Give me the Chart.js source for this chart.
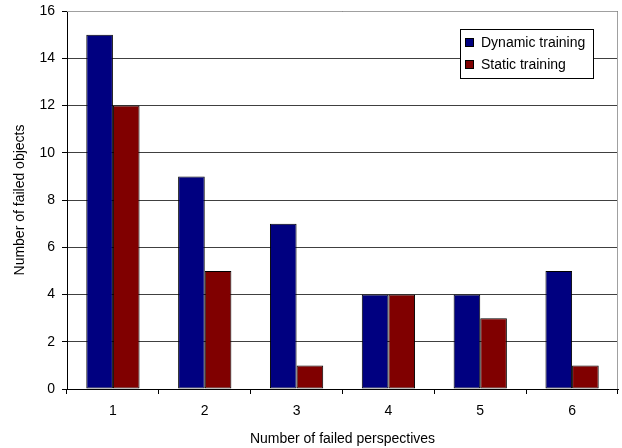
<!DOCTYPE html>
<html lang="en">
<head>
    <meta charset="UTF-8" />
    <title>Failed objects</title>
    <script src="https://cdn.jsdelivr.net/npm/chart.js"></script>
    <style>
        html, body { margin: 0; padding: 0; background: #fff; }
        #wrap { width: 622px; height: 448px; }
    </style>
</head>
<body>
<div id="wrap"><canvas id="failChart" width="622" height="448"></canvas></div>

<script>
    const perspectives = ['1', '2', '3', '4', '5', '6'];
    const dynamicTraining = [15, 9, 7, 4, 4, 5];
    const staticTraining = [12, 5, 1, 4, 3, 1];

    const FONT = '"Liberation Sans", Arial, sans-serif';

    // legend box inside the plot, Excel style
    const boxLegend = {
        id: 'boxLegend',
        afterDraw(chart) {
            const ctx = chart.ctx;
            const x = 460, y = 29, w = 133, h = 49;
            ctx.save();
            ctx.fillStyle = '#fff';
            ctx.fillRect(x, y, w, h);
            ctx.strokeStyle = '#000';
            ctx.lineWidth = 1;
            ctx.strokeRect(x + 0.5, y + 0.5, w, h);
            ctx.font = '14px ' + FONT;
            ctx.textBaseline = 'middle';
            chart.data.datasets.forEach((ds, i) => {
                const cy = y + 13 + i * 22;
                ctx.fillStyle = ds.backgroundColor;
                ctx.fillRect(x + 5, cy - 4, 9, 9);
                ctx.strokeStyle = '#000';
                ctx.strokeRect(x + 5.5, cy - 3.5, 8, 8);
                ctx.fillStyle = '#000';
                ctx.fillText(ds.label, x + 21, cy + 1);
            });
            ctx.restore();
        }
    };

    // grey frame on top and right of plot area
    const frame = {
        id: 'frame',
        beforeDatasetsDraw(chart) {
            const a = chart.chartArea;
            const ctx = chart.ctx;
            ctx.save();
            ctx.strokeStyle = '#a0a0a0';
            ctx.lineWidth = 1;
            ctx.beginPath();
            ctx.moveTo(a.left, a.top + 0.5);
            ctx.lineTo(a.right - 0.5, a.top + 0.5);
            ctx.lineTo(a.right - 0.5, a.bottom);
            ctx.stroke();
            ctx.restore();
        }
    };

    const ctx = document.getElementById('failChart').getContext('2d');
    new Chart(ctx, {
        type: 'bar',
        data: {
            labels: perspectives,
            datasets: [{
                label: 'Dynamic training',
                data: dynamicTraining,
                backgroundColor: '#000080',
                borderColor: '#000',
                borderWidth: 1,
                borderSkipped: false,
                categoryPercentage: 0.58,
                barPercentage: 1.0
            }, {
                label: 'Static training',
                data: staticTraining,
                backgroundColor: '#800000',
                borderColor: '#000',
                borderWidth: 1,
                borderSkipped: false,
                categoryPercentage: 0.58,
                barPercentage: 1.0
            }]
        },
        options: {
            responsive: false,
            animation: false,
            layout: { padding: { top: 11, right: 4, left: 0, bottom: 0 } },
            plugins: {
                legend: { display: false },
                tooltip: { enabled: false }
            },
            scales: {
                x: {
                    afterFit(s) { s.height = 59; s.paddingLeft = 0; s.paddingRight = 0; },
                    grid: {
                        offset: true,
                        drawOnChartArea: false,
                        drawTicks: true,
                        tickLength: 5,
                        tickColor: '#000'
                    },
                    border: { color: '#000' },
                    ticks: {
                        color: '#000',
                        padding: 9,
                        font: { family: FONT, size: 14 }
                    },
                    title: {
                        display: true,
                        text: 'Number of failed perspectives',
                        color: '#000',
                        padding: { top: 4, bottom: 0 },
                        font: { family: FONT, size: 14 }
                    }
                },
                y: {
                    min: 0,
                    max: 16,
                    afterFit(s) { s.width = 67; s.paddingTop = 0; s.paddingBottom = 0; },
                    grid: {
                        color: '#404040',
                        tickLength: 5,
                        tickColor: '#000'
                    },
                    border: { color: '#000' },
                    ticks: {
                        stepSize: 2,
                        color: '#000',
                        padding: 7,
                        font: { family: FONT, size: 14 }
                    },
                    title: {
                        display: true,
                        text: 'Number of failed objects',
                        color: '#000',
                        padding: { top: 12, bottom: 0 },
                        font: { family: FONT, size: 14 }
                    }
                }
            }
        },
        plugins: [frame, boxLegend]
    });
</script>
</body>
</html>
